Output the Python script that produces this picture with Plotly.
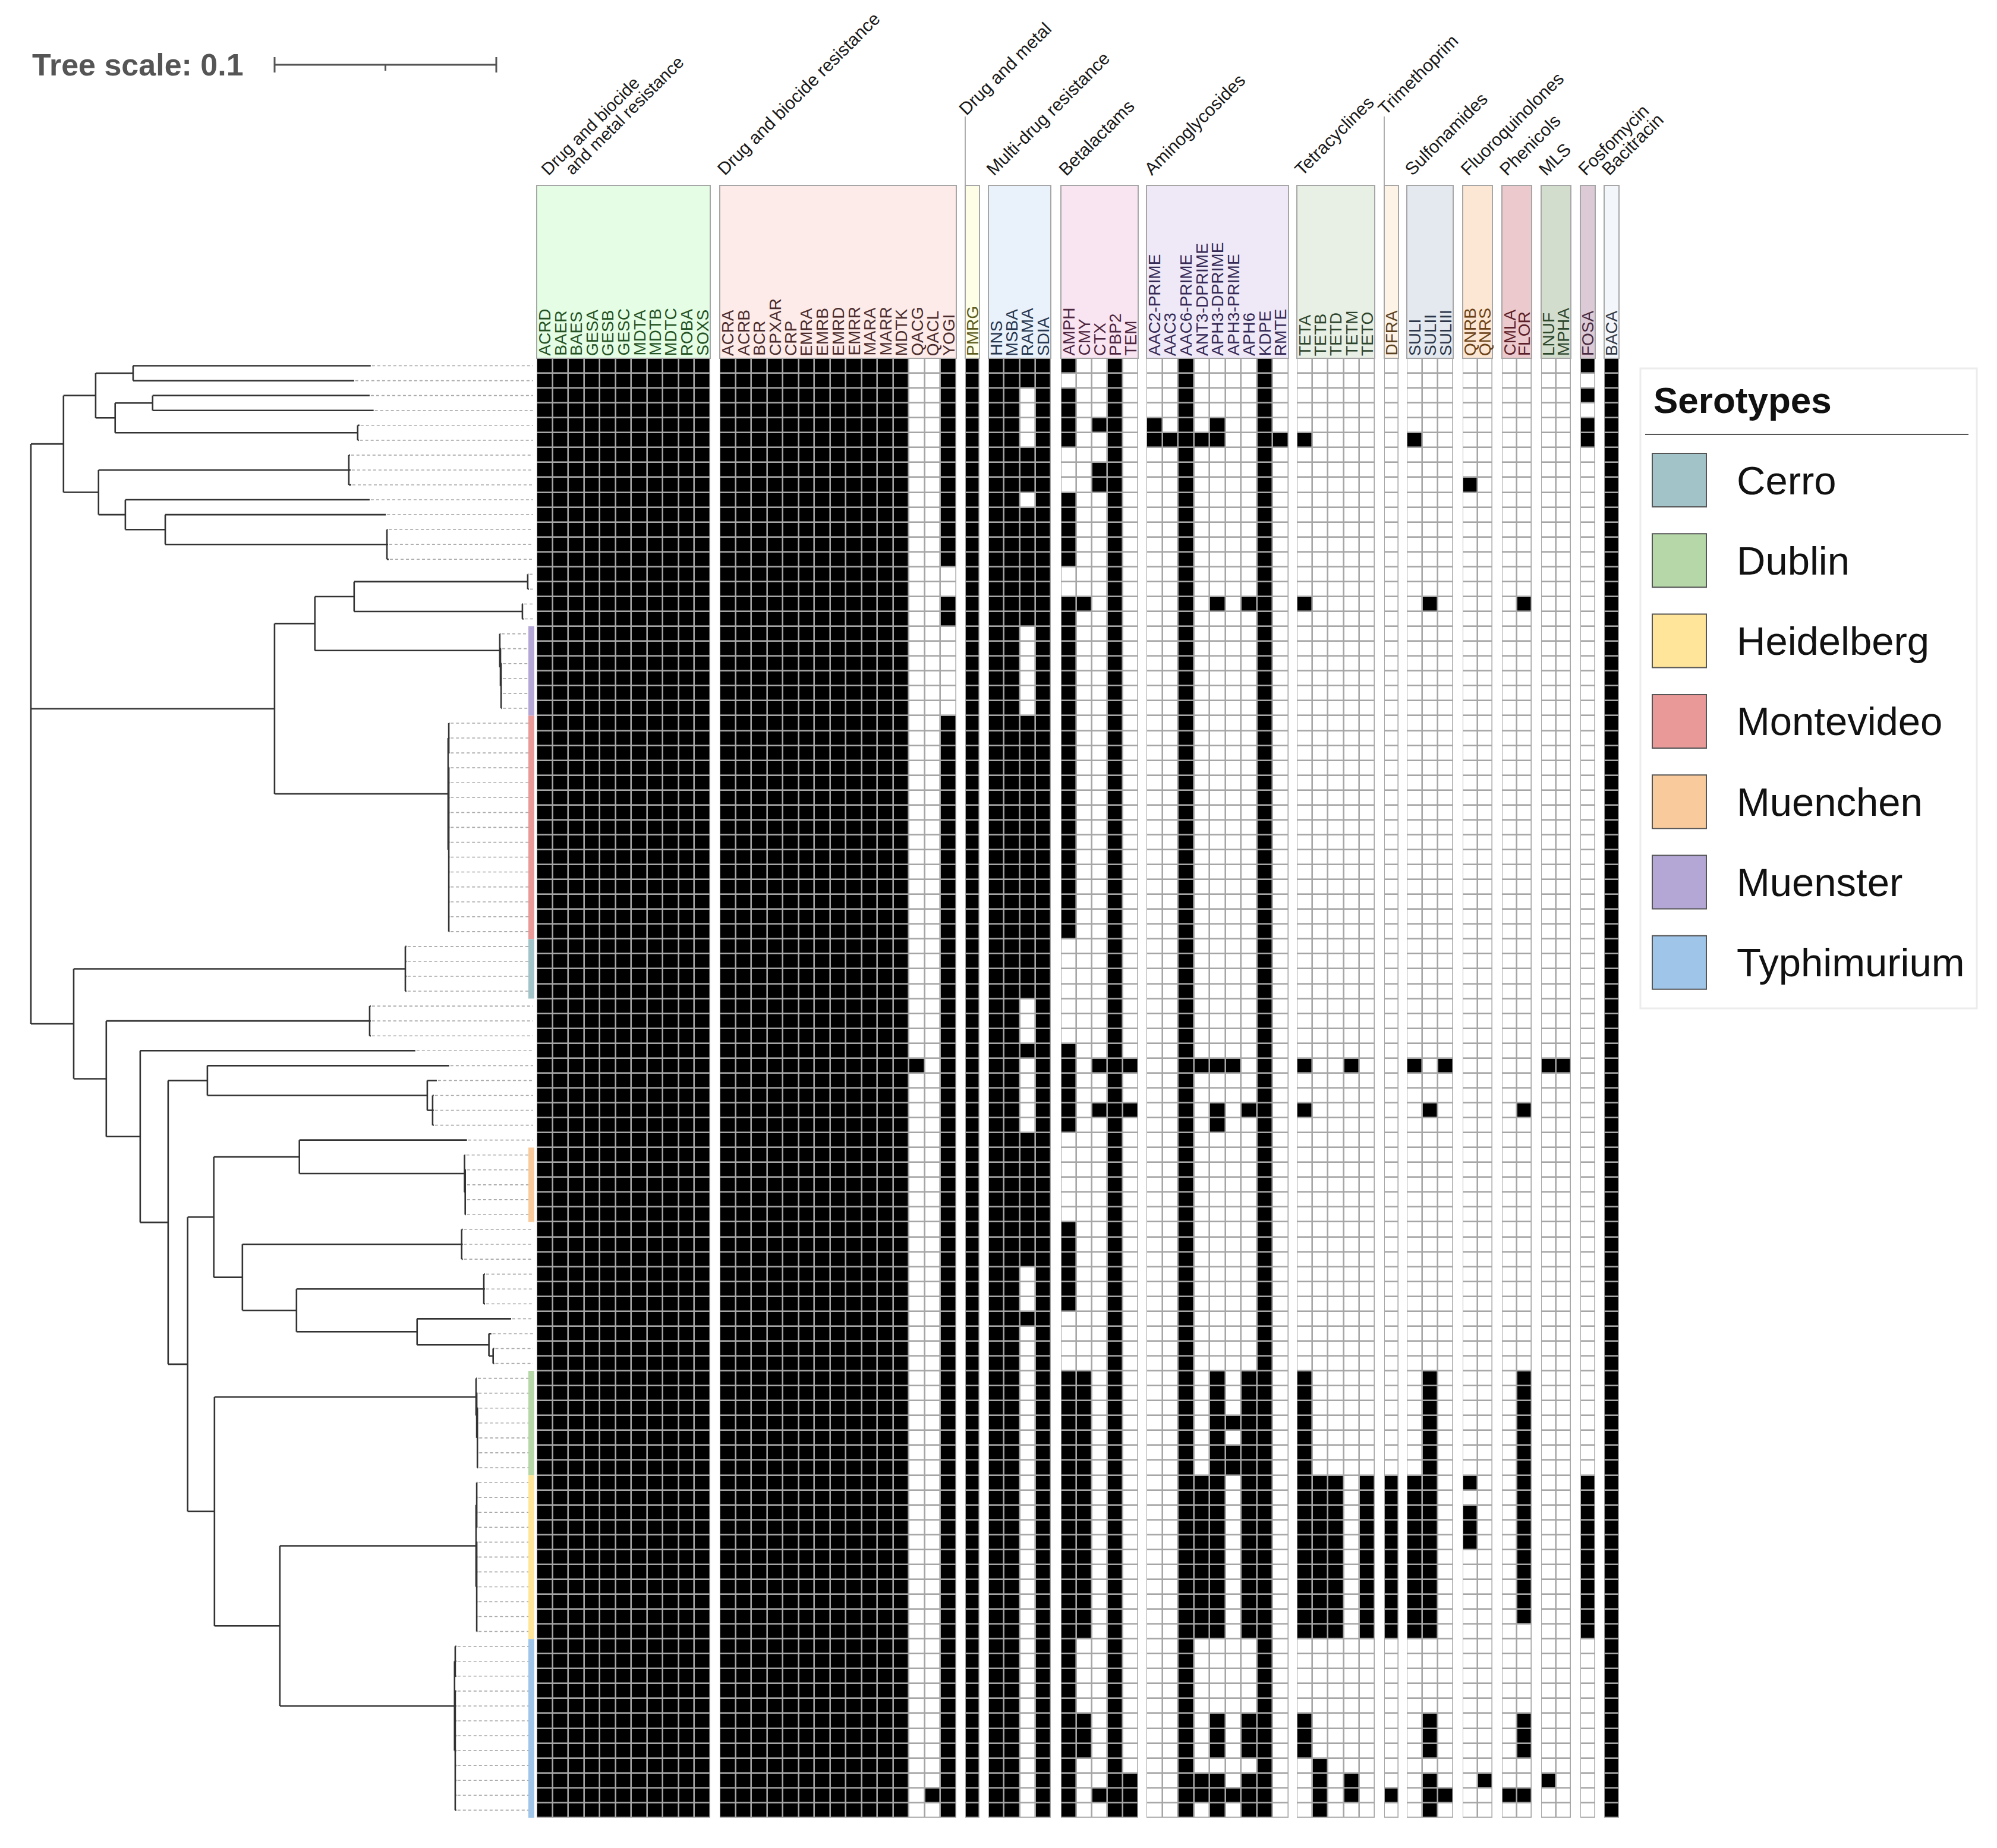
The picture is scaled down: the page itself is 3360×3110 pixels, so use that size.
import plotly.graph_objects as go

# ------------------------------------------------------------------ data
# phylogeny (branch lengths in substitutions/site)
NEWICK = (
    "((((S01:0.1072,S02:0.0997):0.0169,((S03:0.0979,S04:0.0997):0.0169,(S05:0.0008,S06:0.0005):0.1094):0.0088):0.0145,"
    "((S07:0.0005,S08:0.0008,S09:0.0011):0.1129,(S10:0.1102,(S11:0.0995,(S12:0.0003,S13:0.0005,S14:0.0008):0.1000):0.0180):0.0121):0.0158):0.0147,"
    "((((S15:0.0003,S16:0.0005):0.0783,(S17:0.0003,S18:0.0005):0.0759):0.0177,"
    "(S19:0.0003,(S20:0.0003,(S21:0.0003,S22:0.0003,S23:0.0003,S24:0.0003):0.0003):0.0003):0.0834):0.0182,"
    "((S25:0.0003,S26:0.0003,S27:0.0003):0.0003,(S28:0.0003,S29:0.0003,S30:0.0003,S31:0.0003,S32:0.0003,S33:0.0003,"
    "S34:0.0003,S35:0.0003,S36:0.0003,S37:0.0003,S38:0.0003,S39:0.0003):0.0003):0.0783):0.1099,"
    "((S40:0.0005,S41:0.0005,S42:0.0005,S43:0.0005):0.1496,((S44:0.0005,S45:0.0005,S46:0.0005):0.1188,(S47:0.1241,"
    "((S48:0.1091,(S49:0.0043,(S50:0.0005,S51:0.0005,S52:0.0005):0.0024):0.0992):0.0177,"
    "(((S53:0.0756,(S54:0.0003,(S55:0.0003,S56:0.0003,S57:0.0003,S58:0.0003):0.0003):0.0745):0.0386,"
    "((S59:0.0005,S60:0.0005,S61:0.0005):0.0989,((S62:0.0005,S63:0.0005,S64:0.0005):0.0845,"
    "(S65:0.0424,(S66:0.0011,(S67:0.0005,S68:0.0005):0.0019):0.0324):0.0544):0.0244):0.0129):0.0118,"
    "((S69:0.0003,(S70:0.0003,(S71:0.0003,S72:0.0003,S73:0.0003,S74:0.0003,S75:0.0003):0.0003):0.0003):0.1180,"
    "(((S76:0.0003,S77:0.0003,S78:0.0003,S79:0.0003):0.0003,(S80:0.0003,S81:0.0003,S82:0.0003,S83:0.0003,S84:0.0003,"
    "S85:0.0003,S86:0.0003):0.0003):0.0885,((S87:0.0005,S88:0.0005,S89:0.0005):0.0003,(S90:0.0005,S91:0.0005,"
    "S92:0.0005,S93:0.0005,S94:0.0005,S95:0.0005,S96:0.0005,S97:0.0005,S98:0.0005):0.0003):0.0788):0.0295):0.0121"
    "):0.0088):0.0126):0.0153):0.0147):0.0193);"
)
TREE_SCALE = 0.1

# serotype colour strip (first / last sample of each block)
STRIP_NAMES = ["Muenster", "Montevideo", "Cerro", "Muenchen", "Dublin", "Heidelberg", "Typhimurium"]
STRIP_FIRST = [19, 25, 40, 54, 69, 76, 87]
STRIP_LAST = [24, 39, 43, 58, 75, 86, 98]

SEROTYPES = ["Cerro", "Dublin", "Heidelberg", "Montevideo", "Muenchen", "Muenster", "Typhimurium"]
SEROTYPE_COLORS = ["#a2c4c9", "#b6d7a8", "#ffe599", "#ea9999", "#f9cb9c", "#b4a7d6", "#9fc5e8"]

# gene groups
GROUP_TITLES = ["Drug and biocide|and metal resistance", "Drug and biocide resistance", "Drug and metal",
                "Multi-drug resistance", "Betalactams", "Aminoglycosides", "Tetracyclines", "Trimethoprim",
                "Sulfonamides", "Fluoroquinolones", "Phenicols", "MLS", "Fosfomycin", "Bacitracin"]
GROUP_GENES = [
    ["ACRD", "BAER", "BAES", "GESA", "GESB", "GESC", "MDTA", "MDTB", "MDTC", "ROBA", "SOXS"],
    ["ACRA", "ACRB", "BCR", "CPXAR", "CRP", "EMRA", "EMRB", "EMRD", "EMRR", "MARA", "MARR", "MDTK",
     "QACG", "QACL", "YOGI"],
    ["PMRG"],
    ["HNS", "MSBA", "RAMA", "SDIA"],
    ["AMPH", "CMY", "CTX", "PBP2", "TEM"],
    ["AAC2-PRIME", "AAC3", "AAC6-PRIME", "ANT3-DPRIME", "APH3-DPRIME", "APH3-PRIME", "APH6", "KDPE", "RMTE"],
    ["TETA", "TETB", "TETD", "TETM", "TETO"],
    ["DFRA"],
    ["SULI", "SULII", "SULIII"],
    ["QNRB", "QNRS"],
    ["CMLA", "FLOR"],
    ["LNUF", "MPHA"],
    ["FOSA"],
    ["BACA"],
]
GROUP_FILLS = ["#e4fde4", "#fdebe9", "#fefde6", "#e9f1fb", "#f9e4f1", "#efe9f7", "#e8efe4", "#fdf3e6",
               "#e4e9ef", "#fbe7d4", "#ebc9cc", "#d3ddcd", "#dccbd6", "#f3f6fa"]
GROUP_TEXT = ["#245224", "#4a2c2c", "#5c5c1e", "#26364d", "#4d2640", "#352a55", "#2d452d", "#5c421e",
              "#2b3648", "#6b4216", "#5c2028", "#2d472d", "#472a3f", "#333a44"]
RAISED_GROUPS = ["Drug and metal", "Trimethoprim"]

# genes present in every genome
ALWAYS_PRESENT = ["ACRD", "BAER", "BAES", "GESA", "GESB", "GESC", "MDTA", "MDTB", "MDTC", "ROBA", "SOXS",
                  "ACRA", "ACRB", "BCR", "CPXAR", "CRP", "EMRA", "EMRB", "EMRD", "EMRR", "MARA", "MARR", "MDTK",
                  "PMRG", "HNS", "MSBA", "SDIA", "PBP2", "AAC6-PRIME", "KDPE", "BACA"]

# presence (1) / absence (0) for samples 1..98, in blocks of ten
QACG = "0000000000 0000000000 0000000000 0000000000 0000000100 0000000000 0000000000 0000000000 0000000000 00000000"
QACL = "0000000000 0000000000 0000000000 0000000000 0000000000 0000000000 0000000000 0000000000 0000000000 00000010"
YOGI = "1111111111 1111001100 0000111111 1111111111 1111111111 1111111111 1111111111 1111111111 1111111111 11111111"
RAMA = "1100001110 1111111100 0000111111 1111111111 1110001000 0011111111 1000100000 0000000000 0000000000 00000000"
AMPH = "1011110001 1111001111 1111111111 1111111110 0000001111 1100000011 1111000011 1111111111 1111111111 11111111"
CMY = "0000000000 0000001000 0000000000 0000000000 0000000000 0000000000 0000000011 1111111111 1111110000 01110000"
CTX = "0000100110 0000000000 0000000000 0000000000 0000000100 1000000000 0000000000 0000000000 0000000000 00000010"
TEM = "0000000000 0000000000 0000000000 0000000000 0000000100 1000000000 0000000000 0000000000 0000000000 00000111"
AAC2_PRIME = "0000110000 0000000000 0000000000 0000000000 0000000000 0000000000 0000000000 0000000000 0000000000 00000000"
AAC3 = "0000010000 0000000000 0000000000 0000000000 0000000000 0000000000 0000000000 0000000000 0000000000 00000000"
ANT3_DPRIME = "0000010000 0000000000 0000000000 0000000000 0000000100 0000000000 0000000000 0000011111 1111110000 00000110"
APH3_DPRIME = "0000110000 0000001000 0000000000 0000000000 0000000100 1100000000 0000000011 1111111111 1111110000 01110111"
APH3_PRIME = "0000000000 0000000000 0000000000 0000000000 0000000100 0000000000 0000000000 0101100000 0000000000 00000010"
APH6 = "0000000000 0000001000 0000000000 0000000000 0000000000 1000000000 0000000011 1111111111 1111110000 01110111"
RMTE = "0000010000 0000000000 0000000000 0000000000 0000000000 0000000000 0000000000 0000000000 0000000000 00000000"
TETA = "0000010000 0000001000 0000000000 0000000000 0000000100 1000000000 0000000011 1111111111 1111110000 01110000"
TETB = "0000000000 0000000000 0000000000 0000000000 0000000000 0000000000 0000000000 0000011111 1111110000 00001111"
TETD = "0000000000 0000000000 0000000000 0000000000 0000000000 0000000000 0000000000 0000011111 1111110000 00000000"
TETM = "0000000000 0000000000 0000000000 0000000000 0000000100 0000000000 0000000000 0000000000 0000000000 00000110"
TETO = "0000000000 0000000000 0000000000 0000000000 0000000000 0000000000 0000000000 0000011111 1111110000 00000000"
DFRA = "0000000000 0000000000 0000000000 0000000000 0000000000 0000000000 0000000000 0000011111 1111110000 00000010"
SULI = "0000010000 0000000000 0000000000 0000000000 0000000100 0000000000 0000000000 0000011111 1111110000 00000000"
SULII = "0000000000 0000001000 0000000000 0000000000 0000000000 1000000000 0000000011 1111111111 1111110000 01110111"
SULIII = "0000000000 0000000000 0000000000 0000000000 0000000100 0000000000 0000000000 0000000000 0000000000 00000010"
QNRB = "0000000010 0000000000 0000000000 0000000000 0000000000 0000000000 0000000000 0000010111 0000000000 00000000"
QNRS = "0000000000 0000000000 0000000000 0000000000 0000000000 0000000000 0000000000 0000000000 0000000000 00000100"
CMLA = "0000000000 0000000000 0000000000 0000000000 0000000000 0000000000 0000000000 0000000000 0000000000 00000010"
FLOR = "0000000000 0000001000 0000000000 0000000000 0000000000 1000000000 0000000011 1111111111 1111100000 01110010"
LNUF = "0000000000 0000000000 0000000000 0000000000 0000000100 0000000000 0000000000 0000000000 0000000000 00000100"
MPHA = "0000000000 0000000000 0000000000 0000000000 0000000100 0000000000 0000000000 0000000000 0000000000 00000000"
FOSA = "1010110000 0000000000 0000000000 0000000000 0000000000 0000000000 0000000000 0000011111 1111110000 00000000"

VARIABLE = {"QACG": QACG, "QACL": QACL, "YOGI": YOGI, "RAMA": RAMA, "AMPH": AMPH, "CMY": CMY, "CTX": CTX,
            "TEM": TEM, "AAC2-PRIME": AAC2_PRIME, "AAC3": AAC3, "ANT3-DPRIME": ANT3_DPRIME,
            "APH3-DPRIME": APH3_DPRIME, "APH3-PRIME": APH3_PRIME, "APH6": APH6, "RMTE": RMTE, "TETA": TETA,
            "TETB": TETB, "TETD": TETD, "TETM": TETM, "TETO": TETO, "DFRA": DFRA, "SULI": SULI, "SULII": SULII,
            "SULIII": SULIII, "QNRB": QNRB, "QNRS": QNRS, "CMLA": CMLA, "FLOR": FLOR, "LNUF": LNUF,
            "MPHA": MPHA, "FOSA": FOSA}

# ------------------------------------------------------------------ layout constants (px)
W, H = 3360, 3110
FONT = "Liberation Sans, Arial, sans-serif"
GROUP_LEFT = [903, 1211, 1624, 1663, 1785, 1929, 2182, 2329, 2367, 2461, 2527, 2593, 2659, 2699]
GROUP_RIGHT = [1195, 1609, 1648, 1768, 1915, 2168, 2313, 2353, 2445, 2511, 2577, 2643, 2684, 2724]
Y_TOP = 603
ROW_H = 25.06
BOX_TOP = 312
TITLE_Y = 304
RAISED_Y = 202
ROOT_X = 52
PX_PER_UNIT = 3730
LEAF_END = 897
STRIP_X = (889, 899)


# ------------------------------------------------------------------ tree
def parse_newick(s):
    pos = 0

    def node():
        nonlocal pos
        children = []
        if s[pos] == "(":
            pos += 1
            children.append(node())
            while s[pos] == ",":
                pos += 1
                children.append(node())
            assert s[pos] == ")"
            pos += 1
        start = pos
        while s[pos] not in ":,();":
            pos += 1
        name = s[start:pos]
        bl = 0.0
        if s[pos] == ":":
            pos += 1
            start = pos
            while s[pos] not in ",();":
                pos += 1
            bl = float(s[start:pos])
        return {"name": name, "children": children, "bl": bl}

    return node()


root = parse_newick(NEWICK)
leaves = []


def place(nd, x):
    nd["x"] = x
    if not nd["children"]:
        nd["y"] = Y_TOP + ROW_H * (len(leaves) + 0.5)
        leaves.append(nd)
        return
    for c in nd["children"]:
        place(c, x + c["bl"] * PX_PER_UNIT)
    nd["y"] = (nd["children"][0]["y"] + nd["children"][-1]["y"]) / 2


place(root, ROOT_X)
N = len(leaves)
assert N == 98

tx, ty = [], []


def collect(nd):
    if not nd["children"]:
        return
    tx.extend([nd["x"], nd["x"], None])
    ty.extend([nd["children"][0]["y"], nd["children"][-1]["y"], None])
    for c in nd["children"]:
        tx.extend([nd["x"], c["x"], None])
        ty.extend([c["y"], c["y"], None])
        collect(c)


collect(root)

dx_, dy_ = [], []
for lf in leaves:
    if lf["x"] < LEAF_END - 4:
        dx_.extend([lf["x"] + 2, LEAF_END, None])
        dy_.extend([lf["y"], lf["y"], None])

fig = go.Figure()
fig.add_trace(go.Scatter(x=dx_, y=dy_, mode="lines", hoverinfo="skip",
                         line=dict(color="#a8a8a8", width=1.6, dash="5px,4px")))
fig.add_trace(go.Scatter(x=tx, y=ty, mode="lines", hoverinfo="skip",
                         line=dict(color="#333333", width=2.6)))

shapes = []
annotations = []

# serotype strip
col_of = dict(zip(SEROTYPES, SEROTYPE_COLORS))
for nm, a, b in zip(STRIP_NAMES, STRIP_FIRST, STRIP_LAST):
    shapes.append(dict(type="rect", x0=STRIP_X[0], x1=STRIP_X[1],
                       y0=Y_TOP + ROW_H * (a - 1), y1=Y_TOP + ROW_H * b,
                       fillcolor=col_of[nm], line=dict(width=0)))


# ------------------------------------------------------------------ heatmap
def presence(gene):
    if gene in ALWAYS_PRESENT:
        return [1] * N
    s = VARIABLE[gene].replace(" ", "")
    assert len(s) == N, gene
    return [int(ch) for ch in s]


y_bottom = Y_TOP + ROW_H * N
for title, genes, fill, tcol, left, right in zip(GROUP_TITLES, GROUP_GENES, GROUP_FILLS, GROUP_TEXT,
                                                 GROUP_LEFT, GROUP_RIGHT):
    cw = (right - left) / len(genes)
    cols = [presence(g) for g in genes]
    z = [[cols[j][r] for j in range(len(genes))] for r in range(N)]
    shapes.append(dict(type="rect", layer="below", x0=left, x1=right, y0=Y_TOP, y1=y_bottom,
                       fillcolor="#a6a6a6", line=dict(width=0)))
    shapes.append(dict(type="rect", layer="below", x0=left, x1=right, y0=BOX_TOP, y1=Y_TOP,
                       fillcolor=fill, line=dict(color="#a6a6a6", width=2)))
    fig.add_trace(go.Heatmap(z=z, x0=left + cw / 2, dx=cw, y0=Y_TOP + ROW_H / 2, dy=ROW_H,
                             zmin=0, zmax=1, colorscale=[[0, "#ffffff"], [1, "#000000"]],
                             showscale=False, xgap=2.6, ygap=2.6, hoverinfo="skip", zsmooth=False))
    for j, g in enumerate(genes):
        annotations.append(dict(x=left + cw * (j + 0.5), y=Y_TOP - 2, xref="x", yref="y",
                                text=g, textangle=-90, xanchor="center", yanchor="bottom",
                                showarrow=False, font=dict(family=FONT, size=28, color=tcol)))
    # rotated group title
    raised = title in RAISED_GROUPS
    lines = title.split("|")
    for k, ln in enumerate(lines):
        if raised:
            ax, ay = left - 20, RAISED_Y
        elif len(lines) > 1:
            ax, ay = left - 1 + 40 * k, TITLE_Y - 1 * k
        else:
            ax, ay = left - 13, TITLE_Y
        annotations.append(dict(x=ax, y=ay, xref="x", yref="y", text=ln,
                                textangle=-45, xanchor="left", yanchor="bottom", showarrow=False,
                                font=dict(family=FONT, size=29 if len(lines) > 1 else 30, color="#1a1a1a")))
    if raised:
        shapes.append(dict(type="line", x0=left, x1=left, y0=BOX_TOP, y1=RAISED_Y - 6,
                           line=dict(color="#9a9a9a", width=1.6)))

# ------------------------------------------------------------------ tree scale
bar_x0 = 462
bar_x1 = bar_x0 + TREE_SCALE * PX_PER_UNIT
bar_y = 109
annotations.append(dict(x=52, y=bar_y, xref="x", yref="y", text="<b>Tree scale: 0.1</b>", showarrow=False,
                        xanchor="left", yanchor="middle", font=dict(family=FONT, size=52, color="#555555")))
for (xa, ya, xb, yb) in [(bar_x0, bar_y, bar_x1, bar_y), (bar_x0, bar_y - 13, bar_x0, bar_y + 13),
                         (bar_x1, bar_y - 13, bar_x1, bar_y + 13),
                         ((bar_x0 + bar_x1) / 2, bar_y, (bar_x0 + bar_x1) / 2, bar_y + 10)]:
    shapes.append(dict(type="line", x0=xa, y0=ya, x1=xb, y1=yb, line=dict(color="#555555", width=3)))

# ------------------------------------------------------------------ legend
LG_X0, LG_X1, LG_Y0, LG_Y1 = 2760, 3326, 620, 1697
shapes.append(dict(type="rect", x0=LG_X0, x1=LG_X1, y0=LG_Y0, y1=LG_Y1, fillcolor="white",
                   line=dict(color="#ececec", width=3), layer="below"))
annotations.append(dict(x=LG_X0 + 20, y=673, xref="x", yref="y", text="<b>Serotypes</b>", showarrow=False,
                        xanchor="left", yanchor="middle", font=dict(family=FONT, size=62, color="#111111")))
shapes.append(dict(type="line", x0=LG_X0 + 8, x1=LG_X1 - 14, y0=731, y1=731,
                   line=dict(color="#555555", width=2)))
for k, (nm, cl) in enumerate(zip(SEROTYPES, SEROTYPE_COLORS)):
    cy = 808 + 135.3 * k
    shapes.append(dict(type="rect", x0=LG_X0 + 20, x1=LG_X0 + 111, y0=cy - 45, y1=cy + 45,
                       fillcolor=cl, line=dict(color="#555555", width=2)))
    annotations.append(dict(x=LG_X0 + 160, y=cy, xref="x", yref="y", text=nm, showarrow=False,
                            xanchor="left", yanchor="middle", font=dict(family=FONT, size=67, color="#111111")))

fig.update_layout(
    width=W, height=H, margin=dict(l=0, r=0, t=0, b=0),
    paper_bgcolor="white", plot_bgcolor="white", showlegend=False,
    xaxis=dict(range=[0, W], visible=False, fixedrange=True),
    yaxis=dict(range=[H, 0], visible=False, fixedrange=True),
    shapes=shapes, annotations=annotations,
)

fig.write_html("out.html", config={"displayModeBar": False},
               post_script="document.body.style.margin='0';")
